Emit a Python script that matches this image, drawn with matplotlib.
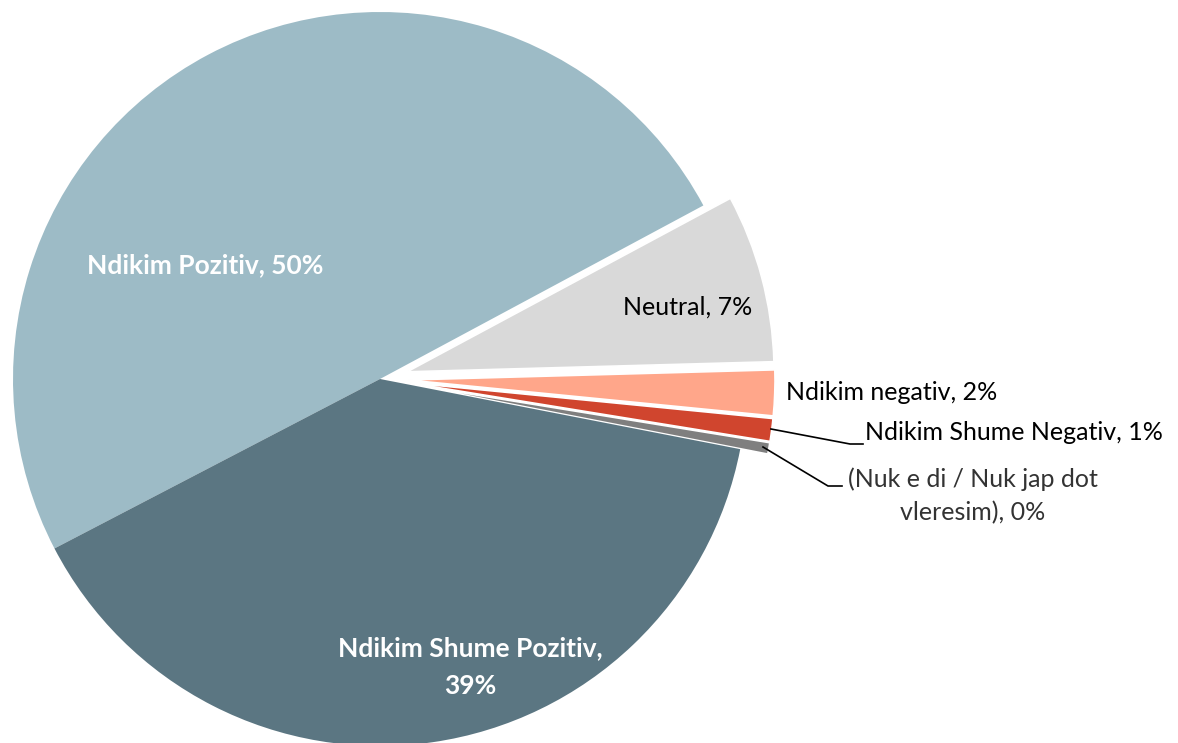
import matplotlib.pyplot as plt

labels = ['Ndikim Pozitiv', 'Neutral', 'Ndikim negativ', 'Ndikim Shume Negativ',
          '(Nuk e di / Nuk jap dot vleresim)', 'Ndikim Shume Pozitiv']
values = [49.8, 7.4, 2.0, 1.0, 0.5, 39.3]
pct = ['50%', '7%', '2%', '1%', '0%', '39%']
colors = ['#9DBBC6', '#D9D9D9', '#FFA68A', '#D0452E', '#7F7F7F', '#5B7682']
explode = [0, 28, 28, 28, 28, 0]  # offsets in pixels (pie explode is absolute)

H = 743
plt.rcParams['font.family'] = ['Lato', 'DejaVu Sans']

fig = plt.figure(figsize=(11.78, 7.43), dpi=100)
ax = fig.add_axes([0, 0, 1, 1])

wedges, _ = ax.pie(values, colors=colors, explode=explode, startangle=207.5,
                   counterclock=False, radius=367, center=(380, H - 379),
                   wedgeprops=dict(edgecolor='white', linewidth=1.2), frame=True)
wedges[0].set_linewidth(0)
wedges[-1].set_linewidth(0)

ax.set_xlim(0, 1178)
ax.set_ylim(0, H)
ax.set_aspect('equal')
ax.axis('off')

fs = 18
fsb = 19

ax.text(205, H - 265, f'{labels[0]}, {pct[0]}', color='white', fontsize=fsb,
        fontweight='bold', ha='center', va='center')
ax.text(470, H - 667, f'{labels[5]},\n{pct[5]}', color='white', fontsize=fsb,
        fontweight='bold', ha='center', va='center', linespacing=1.65)
ax.text(688, H - 307, f'{labels[1]}, {pct[1]}', fontsize=fs, ha='center', va='center')
ax.text(786, H - 393, f'{labels[2]}, {pct[2]}', fontsize=fs, ha='left', va='center')
ax.text(865, H - 433, f'{labels[3]}, {pct[3]}', fontsize=fs, ha='left', va='center')
ax.text(973, H - 496, '(Nuk e di / Nuk jap dot\nvleresim), ' + pct[4],
        fontsize=fs, ha='center', va='center', linespacing=1.5, color='#333333')

# leader lines
ax.plot([771, 850, 863], [H - 429, H - 444, H - 444], color='black', lw=1.2)
ax.plot([763, 828, 842], [H - 447, H - 486, H - 486], color='black', lw=1.2)

fig.savefig('out.png', dpi=100)
